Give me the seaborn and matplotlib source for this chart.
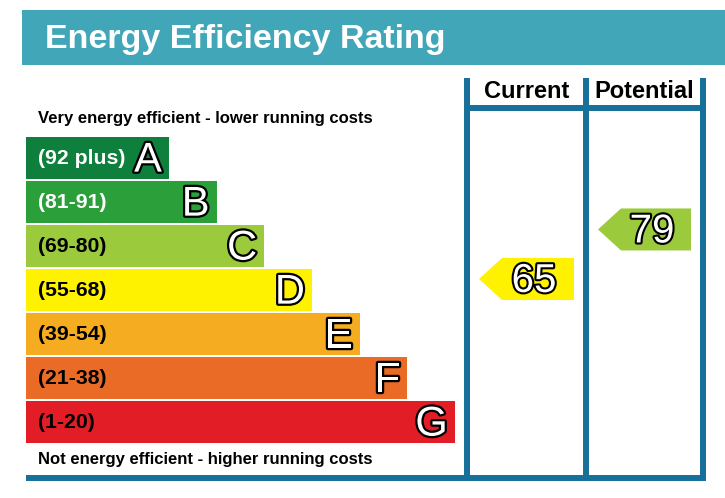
import matplotlib
matplotlib.use("Agg")
import matplotlib.pyplot as plt
import matplotlib.patheffects as pe
import seaborn as sns

# EPC bands, top (best) to bottom
ratings = ["A", "B", "C", "D", "E", "F", "G"]
ranges = ["(92 plus)", "(81-91)", "(69-80)", "(55-68)", "(39-54)", "(21-38)", "(1-20)"]
band_min = [92, 81, 69, 55, 39, 21, 1]
bar_length = [3, 4, 5, 6, 7, 8, 9]
band_colors = ["#0f7f3d", "#2b9f3a", "#9bca3c", "#fff200", "#f6ac20", "#ea6b26", "#e31d25"]
range_text_colors = ["white", "white", "black", "black", "black", "black", "black"]

columns = ["Current", "Potential"]
scores = [65, 79]

header_color = "#41a7b8"
frame_color = "#17709a"

sns.set_theme(style="white")
plt.rcParams["font.family"] = ["Liberation Sans", "DejaVu Sans"]

letter_outline = [pe.Stroke(linewidth=3.2, foreground="black"), pe.Normal()]
number_outline = [pe.Stroke(linewidth=3.0, foreground="black"), pe.Normal()]

fig = plt.figure(figsize=(7.25, 4.98), dpi=100)
W, H = 725, 498

# canvas axes in pixel units
ax = fig.add_axes([0, 0, 1, 1])
ax.set_xlim(0, W)
ax.set_ylim(H, 0)
ax.axis("off")

# header banner
ax.add_patch(plt.Rectangle((22, 10), W - 22, 55, color=header_color, lw=0))
ax.text(45, 39, "Energy Efficiency Rating", color="white", fontsize=24.5,
        fontweight="bold", va="center", ha="left")

# bar axes: one unit of length = 47.67 px, bars 44 px apart
bax = fig.add_axes([26 / W, (H - 444) / H, 429 / W, 308 / H])
sns.barplot(x=bar_length, y=ratings, hue=ratings, palette=band_colors,
            orient="h", width=42 / 44, saturation=1, legend=False,
            linewidth=0, ax=bax)
bax.set_xlim(0, 9)
bax.set_ylim(6.5, -0.5)
bax.axis("off")

for i, (rng, letter, length) in enumerate(zip(ranges, ratings, bar_length)):
    bax.text(0.25, i + 0.02, rng, color=range_text_colors[i], fontsize=15.3,
             fontweight="bold", va="center", ha="left")
    bax.text(length - 0.15, i + 0.06, letter, color="white", fontsize=30,
             va="center", ha="right", path_effects=letter_outline)

# captions
ax.text(38, 118, "Very energy efficient - lower running costs", fontsize=12,
        fontweight="bold", va="center", ha="left", color="black")
ax.text(38, 459, "Not energy efficient - higher running costs", fontsize=12,
        fontweight="bold", va="center", ha="left", color="black")

# rating columns frame
col_edges = [467, 586, 703]
lw = 4.3
for x in col_edges:
    ax.plot([x, x], [78, 478], color=frame_color, lw=lw, solid_capstyle="butt")
ax.plot([col_edges[0], col_edges[-1] + 3], [108, 108], color=frame_color, lw=lw,
        solid_capstyle="butt")
ax.plot([26, col_edges[-1] + 3], [478, 478], color=frame_color, lw=lw,
        solid_capstyle="butt")

for name, left, right in zip(columns, col_edges[:-1], col_edges[1:]):
    ax.text((left + right) / 2, 91, name, fontsize=17, fontweight="bold",
            va="center", ha="center", color="black")


def score_to_y(score):
    # vertical position of a score inside the rating columns
    return 508.8 - 3.536 * score


def band_of(score):
    for i, lo in enumerate(band_min):
        if score >= lo:
            return i
    return len(band_min) - 1


for score, left, right in zip(scores, col_edges[:-1], col_edges[1:]):
    yc = score_to_y(score)
    tip = left + 12
    shoulder = tip + 23
    end = right - 12
    half = 21
    ax.fill([tip, shoulder, end, end, shoulder], [yc, yc - half, yc - half, yc + half, yc + half],
            color=band_colors[band_of(score)], lw=0)
    ax.text((shoulder + end) / 2 - 4, yc + 2, str(score), color="white", fontsize=29,
            va="center", ha="center", path_effects=number_outline)

fig.savefig("out.png", dpi=100, facecolor="white")
